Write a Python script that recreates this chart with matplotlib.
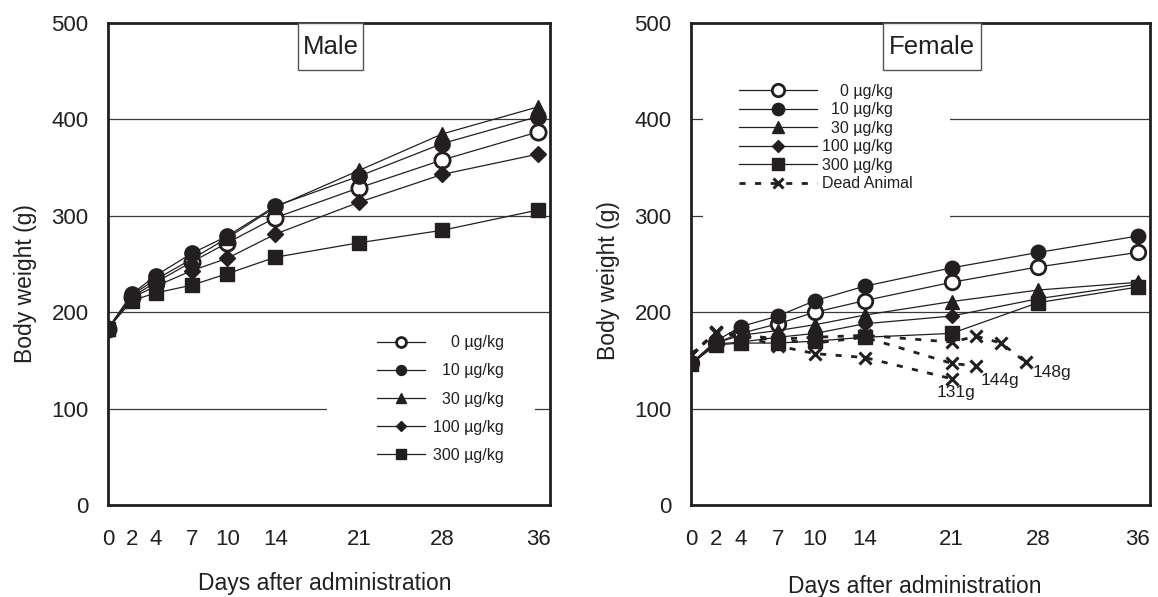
import matplotlib
matplotlib.use("Agg")
import matplotlib.pyplot as plt
from matplotlib.patches import Rectangle

plt.rcParams['font.family'] = ['Liberation Sans', 'DejaVu Sans']

INK = '#231f20'

days = [0, 2, 4, 7, 10, 14, 21, 28, 36]
dose_labels = ["    0 µg/kg", "  10 µg/kg", "  30 µg/kg", "100 µg/kg", "300 µg/kg"]

# male body weight (g)
male_0 = [183, 216, 231, 252, 272, 298, 329, 358, 387]
male_10 = [183, 219, 238, 261, 279, 310, 341, 375, 403]
male_30 = [183, 218, 234, 255, 277, 309, 347, 385, 413]
male_100 = [183, 215, 227, 243, 256, 281, 314, 343, 364]
male_300 = [183, 212, 220, 228, 240, 257, 272, 285, 306]

# female body weight (g)
fem_0 = [147, 168, 178, 188, 200, 212, 231, 247, 262]
fem_10 = [147, 170, 185, 196, 212, 227, 246, 262, 279]
fem_30 = [147, 168, 176, 181, 187, 197, 211, 223, 231]
fem_100 = [147, 167, 169, 174, 178, 188, 196, 214, 229]
fem_300 = [146, 166, 168, 168, 170, 174, 178, 210, 226]

# females that died
dead1_days = [0, 2, 4, 7, 10, 14, 21]
dead1_wt = [156, 179, 176, 165, 157, 153, 131]
dead2_days = [0, 2, 4, 7, 10, 14, 21, 23]
dead2_wt = [156, 178, 175, 171, 168, 174, 147, 144]
dead3_days = [0, 2, 4, 7, 10, 14, 21, 23, 25, 27]
dead3_wt = [156, 179, 177, 172, 174, 176, 169, 175, 168, 148]
dead_notes = ["131g", "144g", "148g"]
note_offsets = [(3, -10), (17, -10), (19, -7)]

markers = [('o', 'white', 11), ('o', INK, 11), ('^', INK, 10), ('D', INK, 8), ('s', INK, 10)]


def setup(ax, title, tbox):
    ax.set_xlim(0, 37)
    ax.set_ylim(0, 500)
    ax.set_xticks(days)
    ax.set_yticks(range(0, 501, 100))
    ax.tick_params(length=0, labelsize=16, colors=INK)
    ax.tick_params(axis='x', pad=17)
    ax.tick_params(axis='y', pad=14)
    for s in ax.spines.values():
        s.set_linewidth(2)
        s.set_color(INK)
    for v in range(100, 500, 100):
        ax.axhline(v, color='#3a3a3a', lw=0.9, zorder=1)
    ax.set_ylabel('Body weight (g)', fontsize=16.5, color=INK)
    ax.set_xlabel('Days after administration', fontsize=16.5, color=INK)
    ax.add_patch(Rectangle((tbox[0], 0.9025), tbox[1] - tbox[0], 0.0975, transform=ax.transAxes,
                           fc='white', ec='#555555', lw=1, zorder=5, clip_on=False))
    ax.text((tbox[0] + tbox[1]) / 2, 0.951, title, transform=ax.transAxes, ha='center', va='center',
            fontsize=18.5, color=INK, zorder=6)


def draw_series(ax, series, ms_scale=1.0):
    lines = []
    for vals, (m, fc, ms), lab in zip(series, markers, dose_labels):
        ln, = ax.plot(days, vals, color=INK, lw=0.9, marker=m, ms=ms * ms_scale, mfc=fc, mec=INK,
                      mew=2 if fc == 'white' else 1, label=lab, zorder=3)
        lines.append(ln)
    return lines


fig = plt.figure(figsize=(11.58, 5.97), dpi=100)
ax_m = fig.add_axes([108 / 1158, 92 / 597, 442 / 1158, 482 / 597])
ax_f = fig.add_axes([691 / 1158, 92 / 597, 459 / 1158, 482 / 597])

# ---- Male
setup(ax_m, 'Male', (0.430, 0.577))
ax_m.add_patch(Rectangle((0.4955, 0.07), 0.47, 0.31, transform=ax_m.transAxes, fc='white', ec='none', zorder=2))
draw_series(ax_m, [male_0, male_10, male_30, male_100, male_300])
ax_m.legend(loc='upper left', bbox_to_anchor=(0.6086, 0.352), frameon=False, borderpad=0, borderaxespad=0,
            fontsize=11.5, handlelength=3, handletextpad=0.5, labelspacing=0.82, markerscale=0.65,
            labelcolor=INK)
ax_m.yaxis.set_label_coords(-0.16, 0.46)
ax_m.xaxis.set_label_coords(0.491, -0.14)

# ---- Female
setup(ax_f, 'Female', (0.418, 0.632))
ax_f.add_patch(Rectangle((0.026, 0.571), 0.538, 0.31, transform=ax_f.transAxes, fc='white', ec='none', zorder=2))
draw_series(ax_f, [fem_0, fem_10, fem_30, fem_100, fem_300], ms_scale=0.95)
dead = [(dead1_days, dead1_wt), (dead2_days, dead2_wt), (dead3_days, dead3_wt)]
for i, (d, w) in enumerate(dead):
    ax_f.plot(d, w, color=INK, lw=2, ls=(0, (2.2, 3.4)), marker='x', ms=9, mew=2.2,
              label='Dead Animal' if i == 0 else None, zorder=4)
    ax_f.annotate(dead_notes[i], (d[-1], w[-1]), xytext=note_offsets[i], textcoords='offset points',
                  ha='center', va='center', fontsize=12.5, color=INK)
ax_f.legend(loc='upper left', bbox_to_anchor=(0.1046, 0.874), frameon=False, borderpad=0, borderaxespad=0,
            fontsize=11.5, handlelength=4.9, handletextpad=0.3, labelspacing=0.22, markerscale=0.85,
            labelcolor=INK)
ax_f.yaxis.set_label_coords(-0.155, 0.465)
ax_f.xaxis.set_label_coords(0.488, -0.145)

fig.savefig('out.png', dpi=100)
